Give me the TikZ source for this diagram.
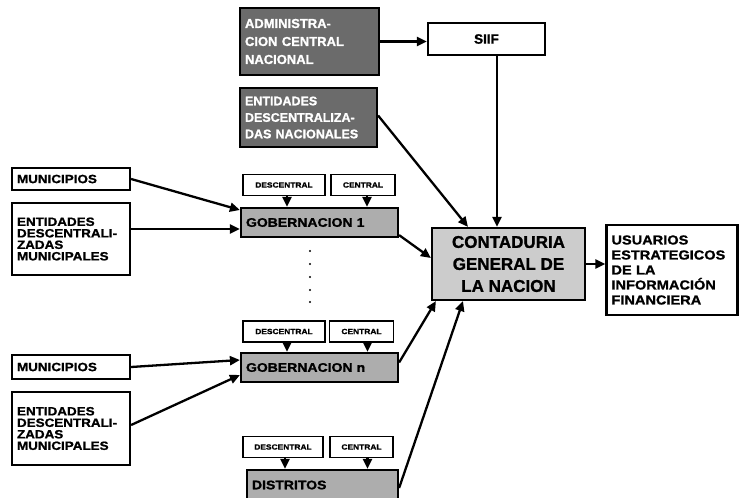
\documentclass[tikz,border=0pt]{standalone}
\usepackage{fontspec}
\setmainfont{Liberation Sans}[BoldFeatures={FakeBold=1.2}]
\newfontfamily\widesans{Liberation Sans}[FakeStretch=1.12, BoldFeatures={FakeBold=1.2}]
\usetikzlibrary{arrows.meta}
\definecolor{darkbox}{gray}{0.42}
\definecolor{midbox}{gray}{0.68}
\definecolor{lightbox}{gray}{0.80}

\tikzset{
  box/.style={draw, line width=2.2pt, inner xsep=5pt, inner ysep=0pt, align=left},
  txt/.style={font=\widesans\bfseries\fontsize{12}{11.5}\selectfont},
  tag/.style={draw, line width=1.8pt, inner sep=0pt, minimum height=21pt,
    font=\widesans\bfseries\fontsize{7.5}{8}\selectfont},
  arr/.style={-{Triangle[length=10pt,width=9pt]}, line width=2.3pt},
}

\begin{document}
\begin{tikzpicture}[x=1pt,y=-1pt]
  \clip (0,0) rectangle (739,498);
  % nivel nacional
  \node[box, fill=darkbox, text=white, text width=129pt, minimum height=67pt,
    font=\bfseries\fontsize{13}{18}\selectfont] (admin) at (309.5,41.5)
    {ADMINISTRA-\\CION CENTRAL\\NACIONAL};
  \node[box, align=center, minimum width=117pt, minimum height=32pt,
    font=\bfseries\fontsize{13.5}{14}\selectfont] (siif) at (486.5,39) {SIIF};
  \node[box, fill=darkbox, text=white, text width=127pt, minimum height=59pt,
    font=\bfseries\fontsize{12.5}{16.5}\selectfont] (entnac) at (308.5,117.5)
    {ENTIDADES\\DESCENTRALIZA-\\DAS NACIONALES};
  \node[box, fill=lightbox, align=center, minimum width=153pt, minimum height=72pt,
    font=\bfseries\fontsize{17}{22}\selectfont] (cgn) at (508.5,264)
    {CONTADURIA\\GENERAL DE\\LA NACION};
  \node[box, text width=121pt, minimum height=90pt,
    font=\widesans\bfseries\fontsize{13}{15}\selectfont] (usuarios) at (672,270)
    {USUARIOS\\ESTRATEGICOS\\DE LA\\INFORMACIÓN\\FINANCIERA};
  % gobernacion 1
  \node[box, txt, text width=108pt, minimum height=22pt] (mun1) at (71,179) {MUNICIPIOS};
  \node[box, txt, text width=108pt, minimum height=72pt] (entmun1) at (71,239)
    {ENTIDADES\\DESCENTRALI-\\ZADAS\\MUNICIPALES};
  \node[tag, minimum width=82pt] (desc1) at (284,185) {DESCENTRAL};
  \node[tag, minimum width=64pt] (cent1) at (363,185) {CENTRAL};
  \node[box, txt, fill=midbox, text width=147pt, minimum height=29pt,
    font=\widesans\bfseries\fontsize{12.5}{13}\selectfont] (gob1) at (319.5,222.5) {GOBERNACION 1};
  \foreach \y in {251,264,277,290,302}
    \fill (310,\y) circle (1.2pt);
  % gobernacion n
  \node[tag, minimum width=82pt] (descn) at (284,331.5) {DESCENTRAL};
  \node[tag, minimum width=64pt] (centn) at (361.5,331.5) {CENTRAL};
  \node[box, txt, fill=midbox, text width=147pt, minimum height=29pt,
    font=\widesans\bfseries\fontsize{12.5}{13}\selectfont] (gobn) at (319.5,367.5) {GOBERNACION n};
  \node[box, txt, text width=108pt, minimum height=24pt] (mun2) at (71,367) {MUNICIPIOS};
  \node[box, txt, text width=108pt, minimum height=73pt] (entmun2) at (71,428.5)
    {ENTIDADES\\DESCENTRALI-\\ZADAS\\MUNICIPALES};
  % distritos
  \node[tag, minimum width=80pt] (descd) at (283,447) {DESCENTRAL};
  \node[tag, minimum width=63pt] (centd) at (361.5,447) {CENTRAL};
  \node[box, txt, fill=midbox, text width=141pt, minimum height=30pt,
    font=\widesans\bfseries\fontsize{12.5}{13}\selectfont] (distritos) at (322.5,485) {DISTRITOS};
  % conexiones
  \draw[arr] (admin.east) -- (admin.east -| siif.west);
  \draw[arr] ([xshift=10.5pt]siif.south) -- ([xshift=10.5pt]siif.south |- cgn.north);
  \draw[arr] ([yshift=2pt]entnac.east) -- ([xshift=-40.5pt]cgn.north);
  \draw[arr] (cgn.east) -- (cgn.east -| usuarios.west);
  \draw[arr] (mun1.east) -- ([yshift=12.5pt]gob1.west);
  \draw[arr] ([yshift=10pt]entmun1.east) -- ([yshift=10pt]entmun1.east -| gob1.west);
  \draw[arr] ([xshift=3pt]desc1.south) -- ([xshift=3pt]desc1.south |- gob1.north);
  \draw[arr] ([xshift=4pt]cent1.south) -- ([xshift=4pt]cent1.south |- gob1.north);
  \draw[arr] ([yshift=3pt]gob1.south east) -- ([yshift=6pt]cgn.west);
  \draw[arr] ([xshift=3pt]descn.south) -- ([xshift=3pt]descn.south |- gobn.north);
  \draw[arr] ([xshift=6pt]centn.south) -- ([xshift=6pt]centn.south |- gobn.north);
  \draw[arr] (mun2.east) -- ([yshift=7.5pt]gobn.west);
  \draw[arr] ([yshift=3.5pt]entmun2.east) -- ([yshift=-7.5pt]gobn.west);
  \draw[arr] ([yshift=5pt]gobn.east) -- ([xshift=5pt]cgn.south west);
  \draw[arr] ([xshift=2pt]descd.south) -- ([xshift=2pt]descd.south |- distritos.north);
  \draw[arr] ([xshift=6pt]centd.south) -- ([xshift=6pt]centd.south |- distritos.north);
  \draw[arr] ([yshift=-3pt]distritos.east) -- ([xshift=-45.5pt]cgn.south);
\end{tikzpicture}
\end{document}
